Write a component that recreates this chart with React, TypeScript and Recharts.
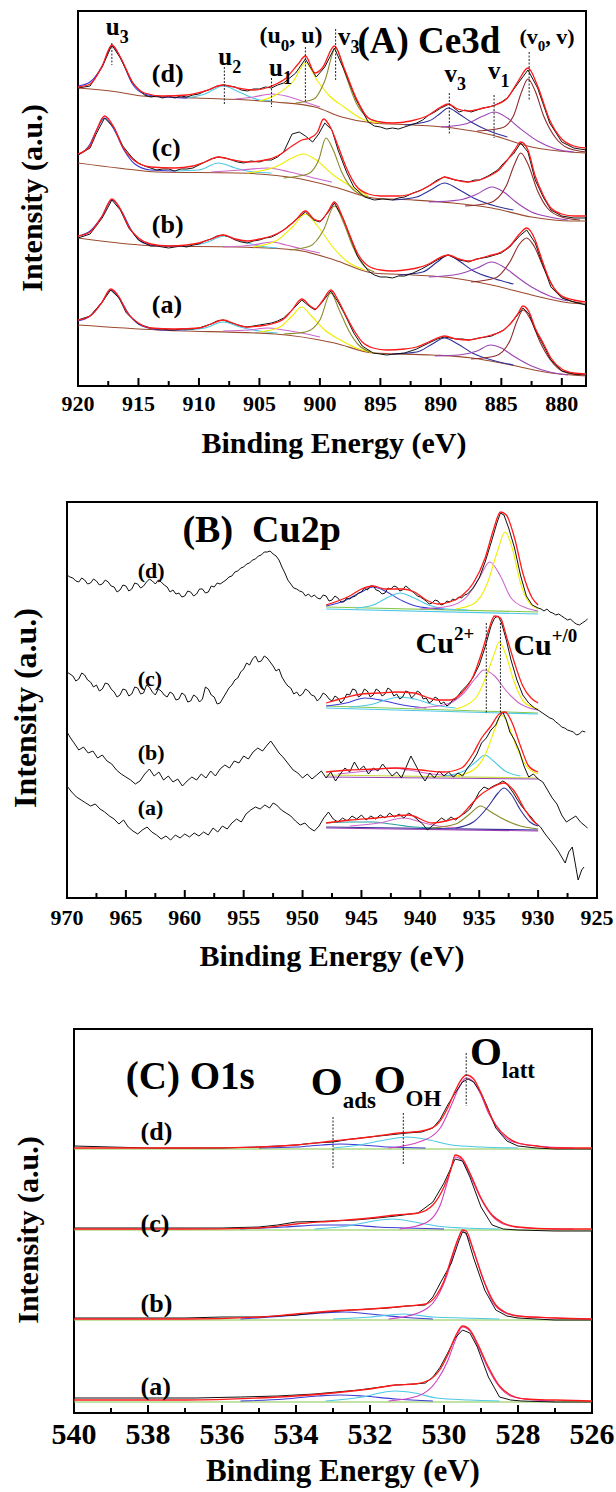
import React from 'react';
import { LineChart, Line, XAxis, YAxis, ReferenceArea, ReferenceLine, ReferenceDot } from 'recharts';

type P = [number, number];
const FONT = "'Liberation Serif', 'DejaVu Serif', serif";

// ---------------- Panel A : Ce3d ----------------
const ceTicks = [920, 915, 910, 905, 900, 895, 890, 885, 880];
const ceMinor = [917.5, 912.5, 907.5, 902.5, 897.5, 892.5, 887.5, 882.5];

const ceD_raw: P[] = [[920,298],[919,300],[918,319],[917.2,341],[916.5,328],[915.5,303],[914.5,291],[914,289],[913.5,290],[913,288],[912.5,290],[912,288],[911.5,290],[911,289],[910.5,291],[910,292],[909.5,295],[909,297],[908.5,300],[908,301],[907.5,300],[907,299],[906.5,296],[906,295],[905.5,297],[905,297],[904.5,299],[904,298],[903.5,301],[903,303],[902,313],[901.2,327],[900.3,309],[899.6,319],[898.8,338],[898,316],[897,286],[896,264],[895.5,260],[895,259],[894.5,257],[894,258],[893.5,257],[893,259],[892.5,261],[892,263],[891.5,266],[891,271],[890.5,274],[890,278],[889.3,282],[888.5,274],[888,276],[887.5,274],[887,276],[886.5,278],[886,279],[885.5,281],[885,284],[884.5,288],[883.6,303],[882.8,316],[882,298],[881,263],[880,244],[879,238],[878,236]];
const ceD_fit: P[] = [[920,299],[919,302],[918,320],[917.2,341],[916.5,329],[915.5,304],[914.5,293],[913,290],[911,291],[909.5,295],[908,301],[906.8,298],[905.5,296],[904,300],[902.8,308],[901.8,322],[901.2,330],[900.4,313],[899.8,318],[898.8,340],[898,318],[897,288],[896,268],[895,264],[894,263],[892.5,265],[891,271],[890,279],[889.4,282],[888.6,277],[887.8,275],[886.5,278],[885.5,281],[884.5,288],[883.6,305],[882.8,318],[882,300],[881,266],[880,247],[879,240],[878,238]];
const ceD_bg: P[] = [[920,298],[916.7,294],[914.7,290],[910.2,288],[903.7,284],[900.4,279],[898.2,269],[895.6,263],[892.3,261],[889,258],[885.8,251],[882.5,239],[879.3,234],[878,233]];
const ceD_u3: P[] = [[920,300],[919,304],[918,320],[917.2,340],[916.4,326],[915.5,302],[914.5,292],[913,289],[911,288]];
const ceD_u2: P[] = [[911,288],[909.5,292],[908,300],[906.5,293],[905,286],[904,285]];
const ceD_u1: P[] = [[907,287],[905.5,289],[904,292],[902.8,290],[901.5,285],[900,279]];
const ceD_u0: P[] = [[905,285],[903.5,292],[902.2,305],[901.2,323],[900.2,305],[899.2,290],[898,279],[896.5,267],[895,263]];
const ceD_v3: P[] = [[902,283],[900.5,287],[899.6,305],[898.7,338],[897.9,312],[897,283],[896,268],[895,264]];
const ceD_v3b: P[] = [[893,261],[891,265],[890,273],[889.4,278],[888.5,272],[887.5,264],[886,255],[884.5,249]];
const ceD_v1: P[] = [[890,259],[888,262],[886.5,270],[885.6,274],[884.5,268],[883.5,258],[882,245],[880.5,237],[879,234]];
const ceD_v0: P[] = [[887,255],[885,258],[884,270],[883.3,295],[882.8,307],[882.2,295],[881.5,270],[880.5,248],[879.5,238],[878,234]];

const ceC_raw: P[] = [[920,231],[919,238],[918.5,252],[917.8,268],[917,258],[916.3,240],[915.5,228],[915,223],[914.5,220],[914,218],[913.5,216],[913,217],[912.5,217],[912,215],[911.5,217],[911,217],[910.5,218],[910,221],[909.5,224],[909,227],[908.4,229],[907.8,228],[907.3,226],[906.8,224],[906.3,223],[905.7,225],[905,224],[904.5,226],[904,226],[903.5,229],[903,234],[902.3,252],[901.7,254],[901.2,250],[900.6,244],[900.1,252],[899.6,263],[899,256],[898.5,236],[897.8,214],[897.2,199],[896.3,189],[895.5,186],[894.8,187],[894,186],[893.5,188],[893,189],[892.3,193],[891.6,196],[891,200],[890.3,206],[889.7,209],[888.8,206],[888.2,205],[887.7,204],[887.2,206],[886.8,206],[886.1,210],[885.3,216],[884.8,223],[884,232],[883.4,243],[882.8,234],[882.2,206],[881.5,188],[880.9,176],[880,170],[879,168],[878,168]];
const ceC_fit: P[] = [[920,232],[919,240],[918.5,255],[917.8,270],[917,258],[916.3,239],[915.5,227],[914,219],[912,218],[910.5,220],[909.5,224],[908.4,229],[907.2,226],[906,224],[904.5,226],[903.5,230],[902.3,240],[901.5,246],[900.8,248],[900.2,254],[899.7,267],[899.1,258],[898.5,240],[897.8,218],[897,200],[896,192],[895,190],[893.5,190],[892,194],[891,200],[890.3,205],[889.7,209],[888.8,206],[887.8,204],[886.8,206],[886,210],[885.2,216],[884.5,226],[883.9,236],[883.4,244],[882.8,236],[882.2,210],[881.5,190],[880.9,178],[880,172],[879,170],[878,170]];
const ceC_bg: P[] = [[920,223],[916.7,218],[913.4,214],[906.9,213],[902,208],[898.8,199],[895.6,188],[892.3,186],[889,183],[885.8,178],[882.5,169],[879.3,165],[878,165]];
const ceC_u3: P[] = [[920,231],[919,242],[918.5,255],[917.8,268],[917,256],[916.2,236],[915.3,222],[914,216],[912,215]];
const ceC_u2: P[] = [[912,215],[910,216],[908.4,223],[907,218],[905.5,214],[904,213]];
const ceC_u1: P[] = [[909,214],[906.5,216],[904.3,218],[902.5,214],[900.5,208],[899,204]];
const ceC_u0: P[] = [[906,213],[903.5,220],[902.3,228],[901.4,232],[900.3,226],[899,212],[897.5,200],[896,190]];
const ceC_v3: P[] = [[903,208],[901,212],[900.1,226],[899.5,248],[898.9,236],[898.2,214],[897.3,197],[896,189]];
const ceC_v3b: P[] = [[894,186],[892,189],[890.7,197],[889.7,203],[888.6,197],[887.3,188],[885.5,180],[884,176]];
const ceC_v1: P[] = [[891,184],[888.5,186],[887,192],[885.8,199],[884.8,194],[883.8,184],[882.5,174],[881,169],[879.5,166]];
const ceC_v0: P[] = [[888,180],[886,183],[884.6,200],[883.9,222],[883.4,233],[882.8,222],[882,195],[881.2,178],[880,169],[878.5,166]];

const ceB_raw: P[] = [[920,148],[919,152],[918,168],[917.2,186],[916.5,176],[915.8,158],[915,146],[914.5,143],[914,140],[913.5,140],[913,139],[912.5,138],[912,139],[911.5,140],[911,139],[910.5,141],[910,142],[909.5,145],[909,147],[908.5,150],[908,151],[907.5,149],[907,146],[906.5,144],[906,143],[905.5,145],[905,146],[904.5,148],[904,149],[903.5,152],[903,156],[902,166],[901.2,174],[900.5,166],[900,164],[899.3,174],[898.8,183],[898.1,168],[897.5,149],[896.9,130],[896,115],[895.5,111],[895,109],[894.5,109],[894,108],[893.5,110],[893,110],[892.3,113],[891.6,117],[891,121],[890.3,126],[889.4,131],[888.5,126],[888,125],[887.7,124],[887.3,126],[887,127],[886.1,129],[885,133],[884.3,139],[883.5,150],[882.9,156],[882.2,143],[881.8,129],[880.9,99],[880,88],[879,84],[878,81]];
const ceB_fit: P[] = [[920,150],[919,154],[918,170],[917.2,187],[916.5,177],[915.8,159],[915,148],[914,142],[912.5,140],[911,141],[910,143],[909,147],[908,151],[907,147],[906,145],[905,147],[904,150],[903,156],[902,166],[901.2,175],[900.5,167],[900,165],[899.3,175],[898.8,184],[898.1,168],[897.5,150],[896.9,133],[896,120],[895,116],[894,115],[893,116],[892,118],[891,122],[890.3,127],[889.4,131],[888.5,127],[887.7,125],[887,127],[886.1,130],[885,134],[884.3,140],[883.5,152],[882.9,158],[882.2,146],[881.8,132],[880.9,103],[880,90],[879,86],[878,84]];
const ceB_bg: P[] = [[920,148],[913.4,140],[906.9,139],[902,136],[898.8,126],[895.6,113],[892.3,111],[889,108],[885.8,101],[882.5,91],[879.3,83],[878,82]];
const ceB_u3: P[] = [[920,150],[919,155],[918,170],[917.2,186],[916.4,175],[915.6,156],[914.6,143],[913,140],[911,140]];
const ceB_u2: P[] = [[911.5,140],[909.5,143],[907.9,150],[906.5,145],[905,140],[903.5,138]];
const ceB_u1: P[] = [[908,139],[905.5,141],[904,144],[902.8,141],[901.5,137],[900,133]];
const ceB_u0: P[] = [[905.5,139],[903.5,146],[902.2,160],[901.2,172],[900.2,160],[899,140],[897.8,125],[896.3,116]];
const ceB_v3: P[] = [[902.5,136],[900.8,140],[899.7,156],[898.8,180],[898,162],[897.3,140],[896.5,122],[895.5,114]];
const ceB_v3b: P[] = [[893.5,111],[891.5,114],[890.3,124],[889.4,131],[888.5,125],[887.3,115],[885.5,107],[884,102]];
const ceB_v1: P[] = [[891,109],[888.5,112],[887,118],[885.8,124],[884.8,119],[883.8,110],[882.5,99],[881,90],[879.5,85]];
const ceB_v0: P[] = [[887.5,104],[885.5,108],[884.3,124],[883.5,142],[882.9,148],[882.3,140],[881.5,118],[880.6,97],[879.5,86],[878.3,83]];

const ceA_raw: P[] = [[920,66],[919,70],[918,84],[917.3,96],[916.6,88],[916,73],[915,62],[914.5,60],[914,58],[913.5,57],[913,57],[912.5,56],[912,56],[911.5,57],[911,57],[910.5,57],[910,58],[909.5,60],[909,62],[908.5,65],[908,66],[907.5,64],[907,62],[906.5,60],[906,59],[905.5,60],[905,61],[904.5,62],[904,63],[903.5,65],[903,68],[902.3,76],[901.5,86],[900.8,79],[900.4,76],[899.8,84],[899.1,95],[898.5,84],[898,73],[897.2,53],[896.5,40],[895.6,33],[895,32],[894.5,31],[893.8,32],[893,33],[892,37],[891.5,40],[891,43],[890.3,47],[889.7,49],[888.7,47],[888.2,47],[887.7,46],[887.2,47],[886.8,48],[885.8,50],[884.8,56],[884.2,63],[883.6,72],[883.2,78],[882.7,72],[882.2,56],[881.5,40],[880.9,26],[880,15],[879,12],[878,11]];
const ceA_fit: P[] = [[920,66],[919,70],[918,84],[917.3,97],[916.6,89],[916,75],[915,63],[914,58],[912,57],[910,58],[909,62],[908,66],[907,62],[906,59],[905,60],[904,62],[903,67],[902.3,76],[901.5,87],[900.8,80],[900.4,77],[899.8,85],[899.1,96],[898.5,86],[898,74],[897.2,56],[896.5,44],[895.6,38],[894.5,36],[893,37],[892,39],[891,44],[890.3,48],[889.7,50],[888.7,47],[887.7,46],[886.8,48],[885.8,51],[884.8,56],[884.2,63],[883.6,73],[883.2,80],[882.7,74],[882.2,58],[881.5,42],[880.9,28],[880,17],[879,13],[878,12]];
const ceA_bg: P[] = [[920,61],[913.4,56],[903.7,52],[898.8,43],[895.6,33],[890.7,31],[887.4,28],[884.2,21],[880.9,13],[878,10]];
const ceA_u3: P[] = [[920,65],[919,70],[918,84],[917.3,96],[916.5,86],[915.7,70],[914.7,60],[913,56],[911,56]];
const ceA_u2: P[] = [[911.5,56],[909.5,58],[908,64],[906.6,59],[905,55],[903.5,53]];
const ceA_u1: P[] = [[908,55],[905.8,56],[904.3,58],[903,56],[901.5,53],[900,49]];
const ceA_u0: P[] = [[905,54],[903.3,59],[902.3,70],[901.5,79],[900.7,70],[899.6,56],[898.3,46],[897,38],[895.5,33]];
const ceA_v3: P[] = [[903,52],[901.2,54],[900,66],[899.1,93],[898.4,76],[897.6,55],[896.8,41],[895.8,34]];
const ceA_v3b: P[] = [[894,32],[892,34],[890.7,42],[889.7,48],[888.6,42],[887.4,33],[885.5,25],[884,21]];
const ceA_v1: P[] = [[890.5,30],[888.5,31],[887,35],[885.9,41],[885,38],[884,30],[882.5,20],[881,14],[879.5,11]];
const ceA_v0: P[] = [[887.5,27],[885.5,30],[884.3,45],[883.7,65],[883.2,76],[882.6,67],[881.8,44],[881,27],[879.8,14],[878.5,11]];

// dotted peak markers: [eV, top, bottom]
const ceMarkers: [number, number, number][] = [[917.2,343,321],[907.9,319,281],[904.0,308,279],[901.2,339,284],[898.7,357,306],[889.3,293,251],[885.6,291,248],[882.7,334,286]];

// ---------------- Panel B : Cu2p ----------------
const cuTicks = [970, 965, 960, 955, 950, 945, 940, 935, 930, 925];
const cuMinor = [967.5, 962.5, 957.5, 952.5, 947.5, 942.5, 937.5, 932.5, 927.5];

const cuD_raw: P[] = [[970,323],[969.75,321],[969.5,320],[969.25,317],[969,316],[968.75,320],[968.5,318],[968.25,314],[968,315],[967.75,319],[967.5,317],[967.25,313],[967,314],[966.75,318],[966.5,316],[966.25,312],[966,311],[965.75,306],[965.5,308],[965.25,313],[965,312],[964.75,307],[964.5,309],[964.25,315],[964,314],[963.75,310],[963.5,312],[963.25,316],[963,319],[962.75,317],[962.5,314],[962.25,318],[962,316],[961.75,313],[961.5,311],[961.25,306],[961,308],[960.75,304],[960.5,305],[960.25,301],[960,302],[959.75,307],[959.5,306],[959.25,302],[959,304],[958.75,309],[958.5,309],[958.25,305],[958,306],[957.75,312],[957.5,311],[957.25,315],[957,314],[956.75,316],[956.5,318],[956.25,321],[956,322],[955.75,326],[955.5,327],[955.25,330],[955,331],[954.75,334],[954.5,335],[954.25,338],[954,339],[953.75,342],[953.5,343],[953.25,346],[953,346],[952.75,347],[952.5,344],[952.25,342],[952,338],[951.75,331],[951.5,325],[951.25,318],[951,314],[950.75,310],[950.5,309],[950.25,307],[950,306],[949.75,302],[949.5,304],[949.25,301],[949,303],[948.75,300],[948.5,299],[948.25,303],[948,302],[947.75,297],[947.5,298],[947.25,302],[947,300],[946.75,296],[946.5,296],[946.25,300],[946,299],[945.75,301],[945.5,302],[945.25,305],[945,306],[944.75,310],[944.5,308],[944.25,312],[944,312],[943.75,308],[943.5,307],[943.25,304],[943,305],[942.75,310],[942.5,309],[942.25,312],[942,311],[941.75,307],[941.5,308],[941.25,312],[941,310],[940.75,307],[940.5,305],[940.25,302],[940,301],[939.75,299],[939.5,297],[939.25,294],[939,295],[938.75,298],[938.5,297],[938.25,293],[938,294],[937.75,297],[937.5,296],[937.25,299],[937,298],[936.75,301],[936.5,300],[936.25,303],[936,304],[935.5,310],[935,320],[934.5,336],[934,355],[933.5,375],[933.2,385],[932.9,383],[932.5,370],[932,350],[931.5,323],[931,302],[930.5,293],[930,290],[929.75,289],[929.5,287],[929.25,289],[929,286],[928.75,285],[928.5,283],[928.25,284],[928,282],[927.75,280],[927.5,278],[927.25,279],[927,276],[926.75,274],[926.5,273],[926.25,275],[926,277],[925.8,279]];
const cuD_fit: P[] = [[948,293],[947,297],[946,302],[945,309],[944,312],[943,309],[942,309],[941.5,309],[940.5,306],[939.5,298],[938.5,294],[937.5,296],[936.5,302],[935.5,315],[934.5,340],[933.8,368],[933.2,386],[932.7,383],[932,360],[931.3,325],[930.5,300],[930,293]];
const cuD_base1: P[] = [[948,291],[930,286]];
const cuD_base2: P[] = [[948,289],[930,284]];
const cuD_p1: P[] = [[948,292],[946.5,297],[945,306],[944,311],[943,307],[941.5,297],[940,291],[938,289]];
const cuD_p2: P[] = [[945.5,290],[944,293],[942.7,301],[941.7,305],[940.7,301],[939.3,293],[937.8,289],[936,288]];
const cuD_p3: P[] = [[940,289],[937.5,292],[936,302],[935,320],[934.1,336],[933.2,322],[932.3,300],[931,290],[930,287]];
const cuD_p4: P[] = [[937,289],[935.5,294],[934.3,315],[933.5,345],[932.8,366],[932.2,350],[931.5,315],[930.8,296],[930,289]];

const cuC_raw: P[] = [[970,226],[969.75,224],[969.5,222],[969.25,217],[969,219],[968.75,225],[968.5,223],[968.25,218],[968,216],[967.75,211],[967.5,213],[967.25,207],[967,209],[966.75,215],[966.5,214],[966.25,209],[966,206],[965.75,201],[965.5,203],[965.25,209],[965,208],[964.75,202],[964.5,204],[964.25,211],[964,210],[963.75,204],[963.5,205],[963.25,213],[963,211],[962.75,206],[962.5,203],[962.25,209],[962,207],[961.75,203],[961.5,201],[961.25,206],[961,204],[960.75,198],[960.5,199],[960.25,205],[960,203],[959.75,196],[959.5,197],[959.25,203],[959,201],[958.75,196],[958.5,199],[958.25,211],[958,209],[957.75,203],[957.5,201],[957.25,194],[957,195],[956.75,200],[956.5,205],[956.25,210],[956,213],[955.75,218],[955.5,220],[955.25,226],[955,229],[954.75,235],[954.5,233],[954.25,239],[954,242],[953.75,236],[953.5,237],[953.25,242],[953,240],[952.75,236],[952.5,232],[952.25,227],[952,229],[951.75,221],[951.5,216],[951.25,212],[951,210],[950.75,204],[950.5,206],[950.25,202],[950,204],[949.75,209],[949.5,207],[949.25,203],[949,202],[948.75,197],[948.5,200],[948.25,205],[948,203],[947.75,199],[947.5,197],[947.25,202],[947,200],[946.75,195],[946.5,198],[946.25,204],[946,203],[945.75,209],[945.5,208],[945.25,201],[945,203],[944.75,209],[944.5,207],[944.25,201],[944,203],[943.75,209],[943.5,207],[943.25,202],[943,204],[942.75,210],[942.5,208],[942.25,202],[942,204],[941.75,199],[941.5,201],[941.25,207],[941,206],[940.75,200],[940.5,203],[940.25,207],[940,205],[939.75,199],[939.5,200],[939.25,195],[939,197],[938.75,201],[938.5,199],[938.25,194],[938,196],[937.75,192],[937.5,194],[937.25,198],[937,199],[936.5,207],[936,213],[935.5,221],[935,233],[934.5,251],[934,272],[933.7,280],[933.4,282],[933.1,275],[932.7,258],[932.3,238],[931.8,218],[931.3,203],[930.8,195],[930.3,190],[930,188],[929.75,186],[929.5,184],[929.25,182],[929,180],[928.75,179],[928.5,176],[928.25,174],[928,171],[927.75,170],[927.5,168],[927.25,167],[927,166],[926.75,163],[926.5,164],[926.25,167],[926,166]];
const cuC_fit: P[] = [[948,195],[946.5,200],[945,204],[943.5,205],[942,206],[940.5,205],[939.5,201],[938.5,198],[937.5,198],[936.5,205],[935.5,222],[934.8,245],[934.2,268],[933.7,282],[933.2,280],[932.7,262],[932,235],[931.3,212],[930.6,200],[930,195]];
const cuC_base1: P[] = [[948,192],[930,185]];
const cuC_base2: P[] = [[948,190],[930,184]];
const cuC_p1: P[] = [[948,192],[946.3,195],[944.7,200],[943,197],[941.5,193],[939.5,190]];
const cuC_p2: P[] = [[946,191],[944,194],[942.7,199],[941.7,201],[940.5,199],[938.8,193],[937,190]];
const cuC_p3: P[] = [[940.5,190],[938,193],[936.3,205],[935.3,220],[934.6,228],[933.7,222],[932.7,207],[931.5,194],[930,188]];
const cuC_p4: P[] = [[937,189],[935.3,200],[934.3,225],[933.7,245],[933.3,256],[932.8,245],[932,215],[931.2,196],[930,189]];

const cuB_raw: P[] = [[970,166],[969.7,160],[969.4,155],[969,148],[968.6,151],[968.2,145],[967.8,147],[967.4,140],[967,143],[966.6,137],[966.2,134],[965.8,128],[965.4,124],[965,121],[964.6,118],[964.2,114],[963.8,117],[963.4,124],[963,129],[962.6,122],[962.2,126],[961.8,118],[961.4,122],[961,116],[960.6,119],[960.2,112],[959.8,117],[959.4,121],[959,118],[958.6,124],[958.2,120],[957.8,127],[957.4,122],[957,129],[956.6,133],[956.2,130],[955.8,137],[955.4,135],[955,142],[954.6,139],[954.2,146],[953.8,150],[953.4,147],[953,153],[952.7,157],[952.4,152],[952,145],[951.6,140],[951.2,134],[950.8,128],[950.4,125],[950,120],[949.6,124],[949.2,119],[948.8,123],[948.4,127],[948,120],[947.6,126],[947.2,117],[946.8,124],[946.4,130],[946,126],[945.6,136],[945.2,128],[944.8,132],[944.4,124],[944,130],[943.6,127],[943.2,134],[942.8,128],[942.4,122],[942,126],[941.6,120],[941.2,131],[940.8,142],[940.4,133],[940,124],[939.6,117],[939.2,125],[938.8,120],[938.4,127],[938,122],[937.6,126],[937.2,121],[936.8,125],[936.4,122],[936,130],[935.6,136],[935.2,144],[934.8,155],[934.4,160],[934,168],[933.6,173],[933.3,181],[933,186],[932.7,178],[932.4,166],[932,158],[931.6,147],[931.2,132],[930.8,121],[930.4,124],[930,119],[929.6,116],[929.2,108],[928.8,100],[928.4,94],[928,83],[927.6,76],[927.2,79],[926.8,82],[926.4,76],[926,72],[925.8,70]];
const cuB_fit: P[] = [[948,126],[946,128],[944,129],[942,130],[940,128],[938,126],[936.5,130],[935.5,145],[934.8,160],[934,172],[933.3,184],[932.8,186],[932.2,175],[931.5,152],[930.8,132],[930,126]];
const cuB_base1: P[] = [[948,123],[930,120]];
const cuB_base2: P[] = [[948,121],[930,119]];
const cuB_p1: P[] = [[947,124],[944.5,127],[942.5,130],[941,128],[939,124],[937,122]];
const cuB_p2: P[] = [[938,122],[936.3,127],[935.2,137],[934.5,143],[933.8,137],[932.8,127],[931.5,122]];
const cuB_p3: P[] = [[937,122],[935.5,128],[934.5,143],[933.7,168],[933.1,183],[932.5,172],[931.8,150],[931,132],[930,124]];

const cuA_raw: P[] = [[970,112],[969.6,106],[969.2,101],[968.8,98],[968.4,95],[968,92],[967.6,94],[967.2,89],[966.8,86],[966.4,82],[966,79],[965.6,74],[965.2,78],[964.8,71],[964.4,67],[964,64],[963.6,68],[963.2,71],[962.8,66],[962.4,63],[962,59],[961.6,62],[961.2,58],[960.8,63],[960.4,60],[960,64],[959.6,61],[959.2,65],[958.8,62],[958.4,66],[958,63],[957.6,70],[957.2,66],[956.8,72],[956.4,69],[956,75],[955.6,79],[955.2,76],[954.8,84],[954.4,88],[954,91],[953.6,89],[953.2,93],[952.8,90],[952.5,95],[952.2,93],[951.8,88],[951.4,85],[951,82],[950.6,77],[950.2,73],[949.8,75],[949.4,70],[949,67],[948.6,72],[948.2,80],[947.8,86],[947.4,79],[947,76],[946.6,80],[946.2,77],[945.8,82],[945.4,79],[945,83],[944.6,78],[944.2,82],[943.8,79],[943.4,83],[943,80],[942.6,85],[942.2,81],[941.8,84],[941.4,80],[941,85],[940.6,82],[940.2,78],[939.8,74],[939.4,68],[939,72],[938.6,76],[938.2,80],[937.8,77],[937.4,81],[937,78],[936.6,82],[936.2,85],[935.8,89],[935.4,97],[935,106],[934.6,111],[934.2,109],[933.8,112],[933.4,114],[933,117],[932.7,115],[932.4,110],[932.1,105],[931.8,99],[931.4,92],[931,86],[930.6,81],[930.2,75],[929.8,71],[929.4,64],[929,58],[928.6,52],[928.3,47],[928,41],[927.7,35],[927.4,46],[927.1,51],[926.9,38],[926.6,18],[926.3,28],[926.1,31]];
const cuA_fit: P[] = [[948,75],[946,78],[943.7,80],[941,83],[939,75],[937.5,78],[936.7,81],[935.8,92],[935.1,101],[934,110],[932.9,115],[932.1,108],[931.1,88],[930.5,78],[930,73]];
const cuA_base1: P[] = [[948,71],[930,68]];
const cuA_base2: P[] = [[948,70],[930,67]];
const cuA_p1: P[] = [[948,75],[946,76],[944,76],[942.5,74],[940.5,71],[938.5,70]];
const cuA_p2: P[] = [[946,72],[943.5,75],[941.4,80],[940,76],[938.5,72],[936.5,70]];
const cuA_p3: P[] = [[939,70],[937,74],[935.8,84],[934.9,92],[934,86],[932.8,78],[931.5,72],[930,69]];
const cuA_p4: P[] = [[937,70],[935.5,76],[934.2,92],[933.4,105],[932.9,110],[932.3,104],[931.5,88],[930.7,76],[930,72]];

const cuMarkers: [number, number, number][] = [[934.4,275,184],[933.2,275,184]];

// ---------------- Panel C : O1s ----------------
const oTicks = [540, 538, 536, 534, 532, 530, 528, 526];
const oMinor = [539, 537, 535, 533, 531, 529, 527];

const oD_raw: P[] = [[540,267],[539,266],[538,265],[537,265],[536,265],[535,266],[534.5,267],[534,268],[533.5,270],[533,271],[532.5,274],[532,276],[531.5,278],[531,280],[530.6,281],[530.3,285],[530.1,294],[529.9,308],[529.7,320],[529.5,331],[529.35,334],[529.2,331],[529,320],[528.85,308],[528.6,285],[528.3,272],[528,267],[527.5,265],[527,264],[526,264]];
const oD_fit: P[] = [[540,265],[537,265],[535,266],[534,268],[533,272],[532,276],[531.2,280],[530.6,282],[530.2,288],[529.9,305],[529.7,322],[529.5,335],[529.4,338],[529.2,334],[529,320],[528.8,302],[528.6,288],[528.3,276],[528,270],[527.5,267],[527,265],[526,265]];
const oD_latt: P[] = [[531.5,265],[530.6,272],[530.1,285],[529.8,308],[529.6,325],[529.4,335],[529.2,331],[529,318],[528.8,300],[528.5,282],[528.2,272],[527.5,267],[526.5,265]];
const oD_oh: P[] = [[533,265],[532.3,268],[531.6,273],[531,276],[530.4,273],[529.8,268],[529,266],[528,265]];
const oD_ads: P[] = [[535,265],[534,266],[533.3,268],[532.8,269],[532.2,268],[531.5,266],[530.5,265]];
const oD_base: P[] = [[540,264],[526,264]];

const oC_raw: P[] = [[540,185],[538,185],[536,185],[535,186],[534.5,188],[534,191],[533,192],[532.4,193],[531.8,195],[531.3,197],[530.7,200],[530.3,211],[530,230],[529.8,246],[529.7,254],[529.5,252],[529.3,236],[529,206],[528.7,188],[528.4,184],[528,183],[527,182],[526,182]];
const oC_fit: P[] = [[540,184],[537,184],[535,185],[534,189],[533,192],[532,195],[531.3,198],[530.7,200],[530.3,208],[530,226],[529.8,245],[529.7,258],[529.5,254],[529.3,240],[529,215],[528.7,198],[528.4,190],[528,186],[527,184],[526,184]];
const oC_latt: P[] = [[531.2,184],[530.5,190],[530.1,208],[529.9,232],[529.7,256],[529.5,252],[529.3,238],[529,214],[528.7,197],[528.4,189],[527.8,185],[526.5,184]];
const oC_oh: P[] = [[533.5,184],[532.6,187],[531.9,192],[531.4,194],[530.8,191],[530.2,187],[529.5,185],[528.5,184]];
const oC_ads: P[] = [[535.5,184],[534.3,186],[533.3,188],[532.6,188],[531.8,186],[531,185],[530,184]];
const oC_base: P[] = [[540,183],[526,183]];

const oB_raw: P[] = [[540,95],[538,95],[537,95],[536,96],[535,96],[534,98],[533.5,100],[532.5,103],[531.5,105],[531,107],[530.5,108],[530.3,116],[530.1,130],[529.8,150],[529.6,172],[529.5,181],[529.4,180],[529.2,155],[528.9,123],[528.6,103],[528.3,97],[528,95],[527,93],[526,93]];
const oB_fit: P[] = [[540,94],[537,94],[535,96],[534,99],[533,102],[532,104],[531,107],[530.5,109],[530.2,118],[530,132],[529.8,155],[529.6,176],[529.5,183],[529.4,182],[529.2,162],[528.9,130],[528.6,108],[528.3,100],[528,97],[527,95],[526,94]];
const oB_latt: P[] = [[531.5,94],[530.7,100],[530.2,115],[529.9,140],[529.7,165],[529.5,182],[529.3,172],[529,140],[528.7,112],[528.4,101],[528,97],[527,95],[526,94]];
const oB_oh: P[] = [[533,94],[532,96],[531.1,99],[530.3,96],[529.5,95],[528.5,94]];
const oB_ads: P[] = [[535.5,94],[534.3,97],[533.3,100],[532.7,101],[532,99],[531.2,96],[530.3,94]];
const oB_base: P[] = [[540,93],[526,93]];

const oA_raw: P[] = [[540,15],[538,15],[536.7,15],[535.5,16],[534.5,17],[533.5,19],[532.9,21],[532.3,23],[531.9,25],[531.3,28],[530.8,29],[530.5,30],[530.3,36],[530.1,46],[529.9,60],[529.7,75],[529.5,83],[529.3,80],[529.1,66],[528.8,36],[528.5,16],[528.2,13],[527.9,12],[527,11],[526,11]];
const oA_fit: P[] = [[540,13],[537,13],[535,15],[534,17],[533,20],[532,24],[531.3,28],[530.8,29],[530.4,33],[530.1,44],[529.9,58],[529.7,76],[529.5,87],[529.3,83],[529.1,70],[528.8,46],[528.5,27],[528.2,18],[527.8,14],[527,13],[526,12]];
const oA_latt: P[] = [[531.5,12],[530.7,17],[530.2,32],[529.9,52],[529.7,72],[529.5,86],[529.3,82],[529.1,68],[528.8,44],[528.5,26],[528.2,17],[527.8,14],[527,12]];
const oA_oh: P[] = [[533.2,12],[532.2,16],[531.6,21],[531.3,22],[530.8,20],[530.2,15],[529.3,13],[528.5,12]];
const oA_ads: P[] = [[535.5,12],[534.3,14],[533.4,17],[532.8,18],[532.2,17],[531.3,14],[530.3,12]];
const oA_base: P[] = [[540,11],[526,11]];

const oMarkers: [number, number, number][] = [[529.4,360,307],[531.1,300,248],[533.0,296,245]];

// ---------------- colours ----------------
const BLACK = '#111111';
const RED = '#ff1a1a';
const C_BLUE = '#3b3bd6';
const C_CYAN = '#4cc8e6';
const C_MAG = '#cc66cc';
const C_YEL = '#eeee00';
const C_OLIVE = '#8a8a2a';
const C_NAVY = '#30309a';
const C_PURP = '#9a44b4';
const C_DRED = '#8e2a2a';
const C_BG = '#9b4a2e';
const C_GREEN = '#86c84a';
const C_TEAL = '#2a9f9f';

type S = { d: P[]; c: string; w?: number; t?: 'linear' | 'monotone' };
const raw = (d: P[]): S => ({ d, c: BLACK, w: 1, t: 'linear' });
const fit = (d: P[]): S => ({ d, c: RED, w: 1.3, t: 'monotone' });
const comp = (d: P[], c: string): S => ({ d, c, w: 1.1, t: 'monotone' });

const ceSeries: S[] = [
  ...[
    [ceD_bg, ceD_u3, ceD_u2, ceD_u1, ceD_u0, ceD_v3, ceD_v3b, ceD_v1, ceD_v0, ceD_raw, ceD_fit],
    [ceC_bg, ceC_u3, ceC_u2, ceC_u1, ceC_u0, ceC_v3, ceC_v3b, ceC_v1, ceC_v0, ceC_raw, ceC_fit],
    [ceB_bg, ceB_u3, ceB_u2, ceB_u1, ceB_u0, ceB_v3, ceB_v3b, ceB_v1, ceB_v0, ceB_raw, ceB_fit],
    [ceA_bg, ceA_u3, ceA_u2, ceA_u1, ceA_u0, ceA_v3, ceA_v3b, ceA_v1, ceA_v0, ceA_raw, ceA_fit],
  ].flatMap((g) => [
    comp(g[0], C_BG), comp(g[1], C_BLUE), comp(g[2], C_CYAN), comp(g[3], C_MAG), comp(g[4], C_YEL),
    comp(g[5], C_OLIVE), comp(g[6], C_NAVY), comp(g[7], C_PURP), comp(g[8], C_DRED), raw(g[9]), fit(g[10]),
  ]),
];

const cuSeries: S[] = [
  comp(cuD_base1, C_GREEN), comp(cuD_base2, C_CYAN), comp(cuD_p1, C_BLUE), comp(cuD_p2, C_CYAN), comp(cuD_p3, C_MAG), comp(cuD_p4, C_YEL), raw(cuD_raw), fit(cuD_fit),
  comp(cuC_base1, C_GREEN), comp(cuC_base2, C_CYAN), comp(cuC_p1, C_BLUE), comp(cuC_p2, C_CYAN), comp(cuC_p3, C_MAG), comp(cuC_p4, C_YEL), raw(cuC_raw), fit(cuC_fit),
  comp(cuB_base1, '#c8dc3c'), comp(cuB_base2, C_PURP), comp(cuB_p1, C_MAG), comp(cuB_p2, C_CYAN), comp(cuB_p3, C_YEL), raw(cuB_raw), fit(cuB_fit),
  comp(cuA_base1, C_NAVY), comp(cuA_base2, C_PURP), comp(cuA_p1, C_TEAL), comp(cuA_p2, C_MAG), comp(cuA_p3, C_OLIVE), comp(cuA_p4, C_NAVY), raw(cuA_raw), fit(cuA_fit),
];

const oSeries: S[] = [
  ...[
    [oD_base, oD_ads, oD_oh, oD_latt, oD_raw, oD_fit],
    [oC_base, oC_ads, oC_oh, oC_latt, oC_raw, oC_fit],
    [oB_base, oB_ads, oB_oh, oB_latt, oB_raw, oB_fit],
    [oA_base, oA_ads, oA_oh, oA_latt, oA_raw, oA_fit],
  ].flatMap((g) => [
    comp(g[0], C_GREEN), comp(g[1], C_BLUE), comp(g[2], C_CYAN), comp(g[3], '#d040c0'), raw(g[4]), fit(g[5]),
  ]),
];

// ---------------- annotation texts (data coordinates) ----------------
type Part = { t: string; s?: 'sub' | 'sup' };
type Lab = { x: number; y: number; parts: Part[]; size: number; small?: number };

const ceLabels: Lab[] = [
  { x: 917.7, y: 351, parts: [{ t: 'u' }, { t: '3', s: 'sub' }], size: 25, small: 18 },
  { x: 913.9, y: 304, parts: [{ t: '(d)' }], size: 26 },
  { x: 908.4, y: 321, parts: [{ t: 'u' }, { t: '2', s: 'sub' }], size: 25, small: 18 },
  { x: 904.2, y: 310, parts: [{ t: 'u' }, { t: '1', s: 'sub' }], size: 25, small: 18 },
  { x: 905.0, y: 343, parts: [{ t: '(u' }, { t: '0', s: 'sub' }, { t: ', u)' }], size: 24, small: 17 },
  { x: 898.5, y: 341, parts: [{ t: 'v' }, { t: '3', s: 'sub' }], size: 25, small: 18 },
  { x: 896.9, y: 333, parts: [{ t: '(A) Ce3d' }], size: 37 },
  { x: 883.5, y: 342, parts: [{ t: '(v' }, { t: '0', s: 'sub' }, { t: ', v)' }], size: 22, small: 15 },
  { x: 889.7, y: 304, parts: [{ t: 'v' }, { t: '3', s: 'sub' }], size: 25, small: 18 },
  { x: 886.1, y: 307, parts: [{ t: 'v' }, { t: '1', s: 'sub' }], size: 25, small: 18 },
  { x: 913.9, y: 230, parts: [{ t: '(c)' }], size: 26 },
  { x: 913.9, y: 153, parts: [{ t: '(b)' }], size: 26 },
  { x: 913.9, y: 73, parts: [{ t: '(a)' }], size: 26 },
];

const cuLabels: Lab[] = [
  { x: 960.2, y: 356, parts: [{ t: '(B)\u00a0 Cu2p' }], size: 38 },
  { x: 964.0, y: 320, parts: [{ t: '(d)' }], size: 22 },
  { x: 964.0, y: 212, parts: [{ t: '(c)' }], size: 22 },
  { x: 964.0, y: 138, parts: [{ t: '(b)' }], size: 22 },
  { x: 964.0, y: 83, parts: [{ t: '(a)' }], size: 22 },
  { x: 940.4, y: 245, parts: [{ t: 'Cu' }, { t: '2+', s: 'sup' }], size: 30, small: 19 },
  { x: 932.1, y: 243, parts: [{ t: 'Cu' }, { t: '+/0', s: 'sup' }], size: 30, small: 19 },
];

const oLabels: Lab[] = [
  { x: 538.6, y: 324, parts: [{ t: '(C) O1s' }], size: 39 },
  { x: 533.6, y: 318, parts: [{ t: 'O' }, { t: 'ads', s: 'sub' }], size: 41, small: 23 },
  { x: 531.9, y: 320, parts: [{ t: 'O' }, { t: 'OH', s: 'sub' }], size: 41, small: 23 },
  { x: 529.3, y: 348, parts: [{ t: 'O' }, { t: 'latt', s: 'sub' }], size: 41, small: 23 },
  { x: 538.2, y: 273, parts: [{ t: '(d)' }], size: 26 },
  { x: 538.2, y: 181, parts: [{ t: '(c)' }], size: 26 },
  { x: 538.2, y: 101, parts: [{ t: '(b)' }], size: 26 },
  { x: 538.2, y: 18, parts: [{ t: '(a)' }], size: 26 },
];

function renderLabel(props: any, lab: Lab) {
  const { cx, cy } = props;
  const small = lab.small ?? Math.round(lab.size * 0.65);
  let cur = 0;
  const spans = lab.parts.map((p, i) => {
    const target = p.s === 'sub' ? lab.size * 0.32 : p.s === 'sup' ? -lab.size * 0.45 : 0;
    const dy = target - cur;
    cur = target;
    return (
      <tspan key={i} dy={dy} fontSize={p.s ? small : lab.size}>
        {p.t}
      </tspan>
    );
  });
  return (
    <text x={cx} y={cy} style={{ fontFamily: FONT, fontWeight: 700 }} fill="#000">
      {spans}
    </text>
  );
}

type PanelProps = {
  top: number;
  height: number;
  margin: { top: number; right: number; bottom: number; left: number };
  xDomain: [number, number];
  yMax: number;
  ticks: number[];
  minor: number[];
  tickFont: number;
  tickMargin: number;
  series: S[];
  markers: [number, number, number][];
  labels: Lab[];
};

function Panel(p: PanelProps) {
  return (
    <div style={{ position: 'absolute', left: 0, top: p.top }}>
      <LineChart width={616} height={p.height} margin={p.margin}>
        <XAxis
          dataKey="x"
          type="number"
          domain={p.xDomain}
          allowDataOverflow
          reversed
          ticks={p.ticks}
          interval={0}
          axisLine={false}
          tickLine={false}
          tickSize={0}
          tickMargin={p.tickMargin}
          height={40}
          tick={{ style: { fontFamily: FONT, fontWeight: 700 }, fontSize: p.tickFont, fill: '#000' }}
        />
        <YAxis type="number" domain={[0, p.yMax]} allowDataOverflow hide />
        {p.series.map((s, i) => (
          <Line
            key={i}
            data={s.d.map(([x, y]) => ({ x, y }))}
            dataKey="y"
            type={s.t ?? 'monotone'}
            stroke={s.c}
            strokeWidth={s.w ?? 1}
            dot={false}
            activeDot={false}
            isAnimationActive={false}
            connectNulls
          />
        ))}
        {p.markers.map(([x, y1, y2], i) => (
          <ReferenceLine
            key={'m' + i}
            segment={[{ x, y: y1 }, { x, y: y2 }]}
            stroke="#222"
            strokeWidth={1}
            strokeDasharray="2 1.5"
            ifOverflow="visible"
          />
        ))}
        {p.ticks.map((t) => (
          <ReferenceLine key={'t' + t} segment={[{ x: t, y: 0 }, { x: t, y: 8 }]} stroke="#000" strokeWidth={2} ifOverflow="visible" />
        ))}
        {p.minor.map((t) => (
          <ReferenceLine key={'n' + t} segment={[{ x: t, y: 0 }, { x: t, y: 5 }]} stroke="#000" strokeWidth={2} ifOverflow="visible" />
        ))}
        <ReferenceArea
          x1={p.xDomain[0]}
          x2={p.xDomain[1]}
          y1={0}
          y2={p.yMax}
          fill="none"
          fillOpacity={0}
          stroke="#000"
          strokeWidth={2}
          ifOverflow="visible"
        />
        {p.labels.map((l, i) => (
          <ReferenceDot key={'l' + i} x={l.x} y={l.y} r={0} ifOverflow="visible" shape={(pr: any) => renderLabel(pr, l)} />
        ))}
      </LineChart>
    </div>
  );
}

const titles = [
  { x: 334, y: 453, size: 30 },
  { x: 332, y: 966, size: 30 },
  { x: 343, y: 1481, size: 31 },
];
const yTitles = [
  { x: 42, y: 198, size: 30 },
  { x: 36, y: 708, size: 32 },
  { x: 38, y: 1230, size: 30 },
];

export default function App() {
  return (
    <div style={{ position: 'relative', width: 616, height: 1492, background: '#fff', overflow: 'hidden', fontFamily: FONT }}>
      <style>{'body{margin:0;background:#fff}'}</style>
      <Panel
        top={0}
        height={480}
        margin={{ top: 11, right: 30, bottom: 54, left: 78 }}
        xDomain={[878, 920]}
        yMax={375}
        ticks={ceTicks}
        minor={ceMinor}
        tickFont={22}
        tickMargin={9}
        series={ceSeries}
        markers={ceMarkers}
        labels={ceLabels}
      />
      <Panel
        top={490}
        height={480}
        margin={{ top: 12, right: 19, bottom: 32, left: 67 }}
        xDomain={[925, 970]}
        yMax={396}
        ticks={cuTicks}
        minor={cuMinor}
        tickFont={22}
        tickMargin={11}
        series={cuSeries}
        markers={cuMarkers}
        labels={cuLabels}
      />
      <Panel
        top={1000}
        height={492}
        margin={{ top: 29, right: 24, bottom: 39, left: 74 }}
        xDomain={[526, 540]}
        yMax={384}
        ticks={oTicks}
        minor={oMinor}
        tickFont={30}
        tickMargin={10}
        series={oSeries}
        markers={oMarkers}
        labels={oLabels}
      />
      <svg width={616} height={1492} style={{ position: 'absolute', left: 0, top: 0, pointerEvents: 'none' }}>
        {titles.map((t, i) => (
          <text key={'t' + i} x={t.x} y={t.y} textAnchor="middle" style={{ fontFamily: FONT, fontWeight: 700 }} fontSize={t.size} fill="#000">
            Binding Energy (eV)
          </text>
        ))}
        {yTitles.map((t, i) => (
          <text
            key={'y' + i}
            x={t.x}
            y={t.y}
            textAnchor="middle"
            style={{ fontFamily: FONT, fontWeight: 700 }}
            fontSize={t.size}
            fill="#000"
            transform={`rotate(-90, ${t.x}, ${t.y})`}
          >
            Intensity (a.u.)
          </text>
        ))}
      </svg>
    </div>
  );
}
